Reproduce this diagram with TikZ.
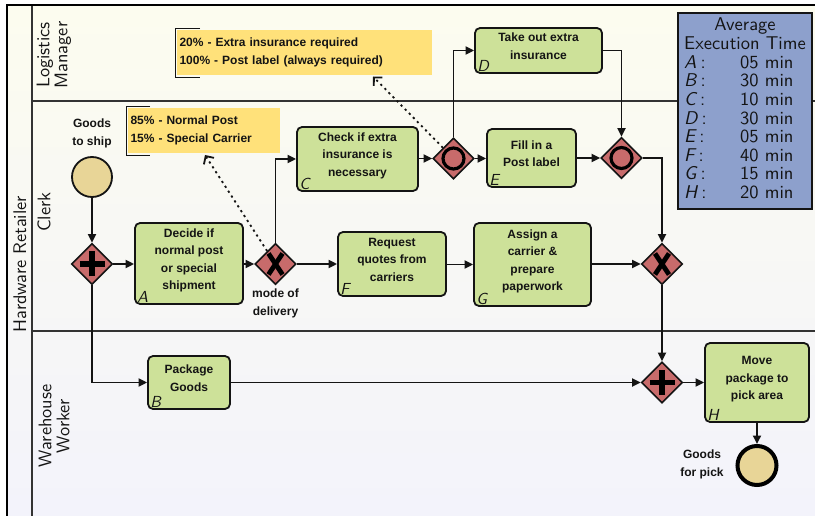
\documentclass[tikz,border=0pt]{standalone}
\usepackage{fontspec}
\newfontfamily\taskfont{Liberation Sans}
\newfontfamily\lmsansten{lmsans10-regular}[Extension=.otf, ItalicFont=lmsans10-oblique]
\usetikzlibrary{shapes.geometric,arrows.meta,calc}

\definecolor{taskgreen}{HTML}{CDE199}
\definecolor{gatered}{HTML}{C86B6B}
\definecolor{eventtan}{HTML}{E8D597}
\definecolor{noteyellow}{HTML}{FFE17A}
\definecolor{tableblue}{HTML}{8DA0CC}
\definecolor{inkdark}{HTML}{141414}
\definecolor{laneyellow}{HTML}{FCFCEF}
\definecolor{lanegray}{HTML}{F7F7F6}
\definecolor{lanelav}{HTML}{F3F3FB}
\definecolor{laneline}{HTML}{333333}

% one row of the execution-time table
\newcommand\avgrow[2]{\makebox[56pt][l]{{\itshape #1}\hspace{4pt}:}#2 min}

\begin{document}
\begin{tikzpicture}[x=1pt,y=-1pt,
  txt/.style={font=\taskfont\bfseries\fontsize{12}{18}\selectfont, align=center, inner sep=0pt, text=inkdark},
  tag/.style={anchor=south west, inner sep=0pt, xshift=3pt, yshift=2pt,
    font=\lmsansten\itshape\fontsize{16}{16}\selectfont, text=inkdark},
  task/.style={draw=inkdark, line width=1.8pt, fill=taskgreen, rounded corners=5pt,
    align=center, inner sep=2pt, text depth=9pt, text=inkdark,
    font=\taskfont\bfseries\fontsize{12}{17.5}\selectfont,
    label={[tag]south west:#1}},
  gate/.style={diamond, aspect=1, draw=inkdark, line width=1.6pt, fill=gatered,
    minimum width=41pt, minimum height=41pt, inner sep=0pt},
  plusgate/.style={gate, path picture={
    \draw[line width=5.5pt, black] ([xshift=-12.5pt]path picture bounding box.center) -- ([xshift=12.5pt]path picture bounding box.center);
    \draw[line width=5.5pt, black] ([yshift=-12.5pt]path picture bounding box.center) -- ([yshift=12.5pt]path picture bounding box.center);}},
  xorgate/.style={gate, path picture={
    \draw[line width=4.8pt, black] ([shift={(-7pt,10.5pt)}]path picture bounding box.center) -- ([shift={(7pt,-10.5pt)}]path picture bounding box.center);
    \draw[line width=4.8pt, black] ([shift={(7pt,10.5pt)}]path picture bounding box.center) -- ([shift={(-7pt,-10.5pt)}]path picture bounding box.center);}},
  orgate/.style={gate, path picture={
    \draw[line width=3.2pt, black] (path picture bounding box.center) circle[radius=10.5pt];}},
  startev/.style={circle, draw=inkdark, line width=1.8pt, fill=eventtan, minimum size=40pt, inner sep=0pt},
  endev/.style={circle, draw=black, line width=4pt, fill=eventtan, minimum size=39pt, inner sep=0pt},
  conn/.style={draw=inkdark, line width=1.8pt, -{Triangle[length=8.5pt,width=8pt]}},
  assoc/.style={draw=inkdark, line width=1.8pt, dash pattern=on 2.2pt off 3.6pt,
    -{Straight Barb[length=6pt,width=12pt,line width=1.8pt]}},
  annot/.style={fill=noteyellow, anchor=north west, inner xsep=2.5pt, inner ysep=0pt, outer sep=0pt,
    align=left, minimum height=45pt, text=inkdark,
    font=\taskfont\bfseries\fontsize{12}{18}\selectfont},
  bracket/.style={draw=inkdark, line width=0.9pt},
  lanelabel/.style={rotate=90, align=center, inner sep=0pt, text=inkdark,
    font=\lmsansten\fontsize{18.3}{18}\selectfont},
  avgbox/.style={draw=inkdark, line width=2.5pt, fill=tableblue, minimum width=134pt,
    minimum height=196pt, inner sep=0pt, text=inkdark,
    font=\lmsansten\fontsize{18.5}{18.6}\selectfont}
]
\useasboundingbox (0,0) rectangle (815,516);

% pool background, lane separators and frame
\fill[white] (0,0) rectangle (815,516);
\shade[top color=laneyellow, middle color=lanegray, bottom color=lanelav] (7,5) rectangle (815,516);
\draw[laneline, line width=1.2pt] (32,5) -- (32,516);
\draw[laneline, line width=1.2pt] (32,101) -- (815,101);
\draw[laneline, line width=1.2pt] (32,331) -- (815,331);
\draw[black, line width=2.6pt] (7,516) -- (7,5) -- (815,5);

% pool and lane titles
\node[lanelabel] (lblPool)  at (20,264) {Hardware Retailer};
\node[lanelabel] (lblLog)   at (54,55)  {Logistics\\Manager};
\node[lanelabel] (lblClerk) at (44,212) {Clerk};
\node[lanelabel] (lblWare)  at (54,426) {Warehouse\\Worker};

% annotations
\node[annot, text width=147pt] (ann1) at (128,108) {85\% - Normal Post\\15\% - Special Carrier};
\node[annot, text width=250pt] (ann2) at (177,30) {20\% - Extra insurance required\\100\% - Post label (always required)};
\draw[bracket] ($(ann1.north west)+(22,-2)$) -- ($(ann1.north west)+(-1.3,-2)$)
  -- ($(ann1.south west)+(-1.3,2.5)$) -- ($(ann1.south west)+(22,2.5)$);
\draw[bracket] ($(ann2.north west)+(23,-2)$) -- ($(ann2.north west)+(-1.7,-2)$)
  -- ($(ann2.south west)+(-1.7,2)$) -- ($(ann2.south west)+(23,2)$);
\coordinate (ann1tip) at (205,155);
\coordinate (ann2tip) at (373,76.5);

% events
\node[startev] (start) at (92,177) {};
\node[txt] (lblStart) at (92,133) {Goods\\to ship};
\node[endev] (finish) at (757,465.5) {};
\node[txt] (lblEnd) at (702,464) {Goods\\for pick};

% gateways
\node[plusgate] (pg1)  at (92,264) {};
\node[xorgate]  (xor1) at (275.5,264) {};
\node[txt] (lblMode) at (275.5,303) {mode of\\delivery};
\node[orgate]   (or1)  at (453.5,158.5) {};
\node[orgate]   (or2)  at (621.5,158) {};
\node[xorgate]  (xor2) at (662,264) {};
\node[plusgate] (pg2)  at (662,382.5) {};

% tasks
\node[task=A, minimum width=108pt, minimum height=81pt] (A) at (189,263.5) {Decide if\\normal post\\or special\\shipment};
\node[task=C, minimum width=121pt, minimum height=64pt] (C) at (357.5,159) {Check if extra\\insurance is\\necessary};
\node[task=D, minimum width=127pt, minimum height=45pt] (D) at (538.5,50.5) {Take out extra\\insurance};
\node[task=E, minimum width=89pt,  minimum height=58pt] (E) at (531.5,158) {Fill in a\\Post label};
\node[task=F, minimum width=108pt, minimum height=64pt] (F) at (392,264) {Request\\quotes from\\carriers};
\node[task=G, minimum width=117pt, minimum height=83pt] (G) at (532.5,264.5) {Assign a\\carrier \&\\prepare\\paperwork};
\node[task=B, minimum width=82pt,  minimum height=53pt] (B) at (189,382.5) {Package\\Goods};
\node[task=H, minimum width=104pt, minimum height=79pt] (H) at (757,382.5) {Move\\package to\\pick area};

% execution times
\node[avgbox] (avg) at (745,111) {%
  \begin{tabular}{@{}l@{}}
  \multicolumn{1}{@{}c@{}}{Average}\\
  \multicolumn{1}{@{}c@{}}{Execution Time}\\
  \avgrow{A}{05}\\ \avgrow{B}{30}\\ \avgrow{C}{10}\\ \avgrow{D}{30}\\
  \avgrow{E}{05}\\ \avgrow{F}{40}\\ \avgrow{G}{15}\\ \avgrow{H}{20}
  \end{tabular}};

% sequence flows
\draw[conn] (start.south) -- (pg1.north);
\draw[conn] (pg1.east) -- (pg1.east -| A.west);
\draw[conn] (pg1.south) |- (B.west);
\draw[conn] (A.east |- xor1) -- (xor1.west);
\draw[conn] (xor1.north) |- (C.west);
\draw[conn] (xor1.east) -- (xor1.east -| F.west);
\draw[conn] (C.east |- or1) -- (or1.west);
\draw[conn] (or1.north) |- (D.west);
\draw[conn] (or1.east) -- (or1.east -| E.west);
\draw[conn] (D.east) -| (or2.north);
\draw[conn] (E.east |- or2) -- (or2.west);
\draw[conn] (or2.east) -| (xor2.north);
\draw[conn] (F.east |- G) -- (G.west);
\draw[conn] (G.east |- xor2) -- (xor2.west);
\draw[conn] (xor2.south) -- (pg2.north);
\draw[conn] (B.east |- pg2) -- (pg2.west);
\draw[conn] (pg2.east) -- (pg2.east -| H.west);
\draw[conn] (H.south) -- (finish.north);

% associations to the annotations
\draw[assoc] (xor1) -- (ann1tip);
\draw[assoc] (or1) -- (ann2tip);
\end{tikzpicture}
\end{document}
